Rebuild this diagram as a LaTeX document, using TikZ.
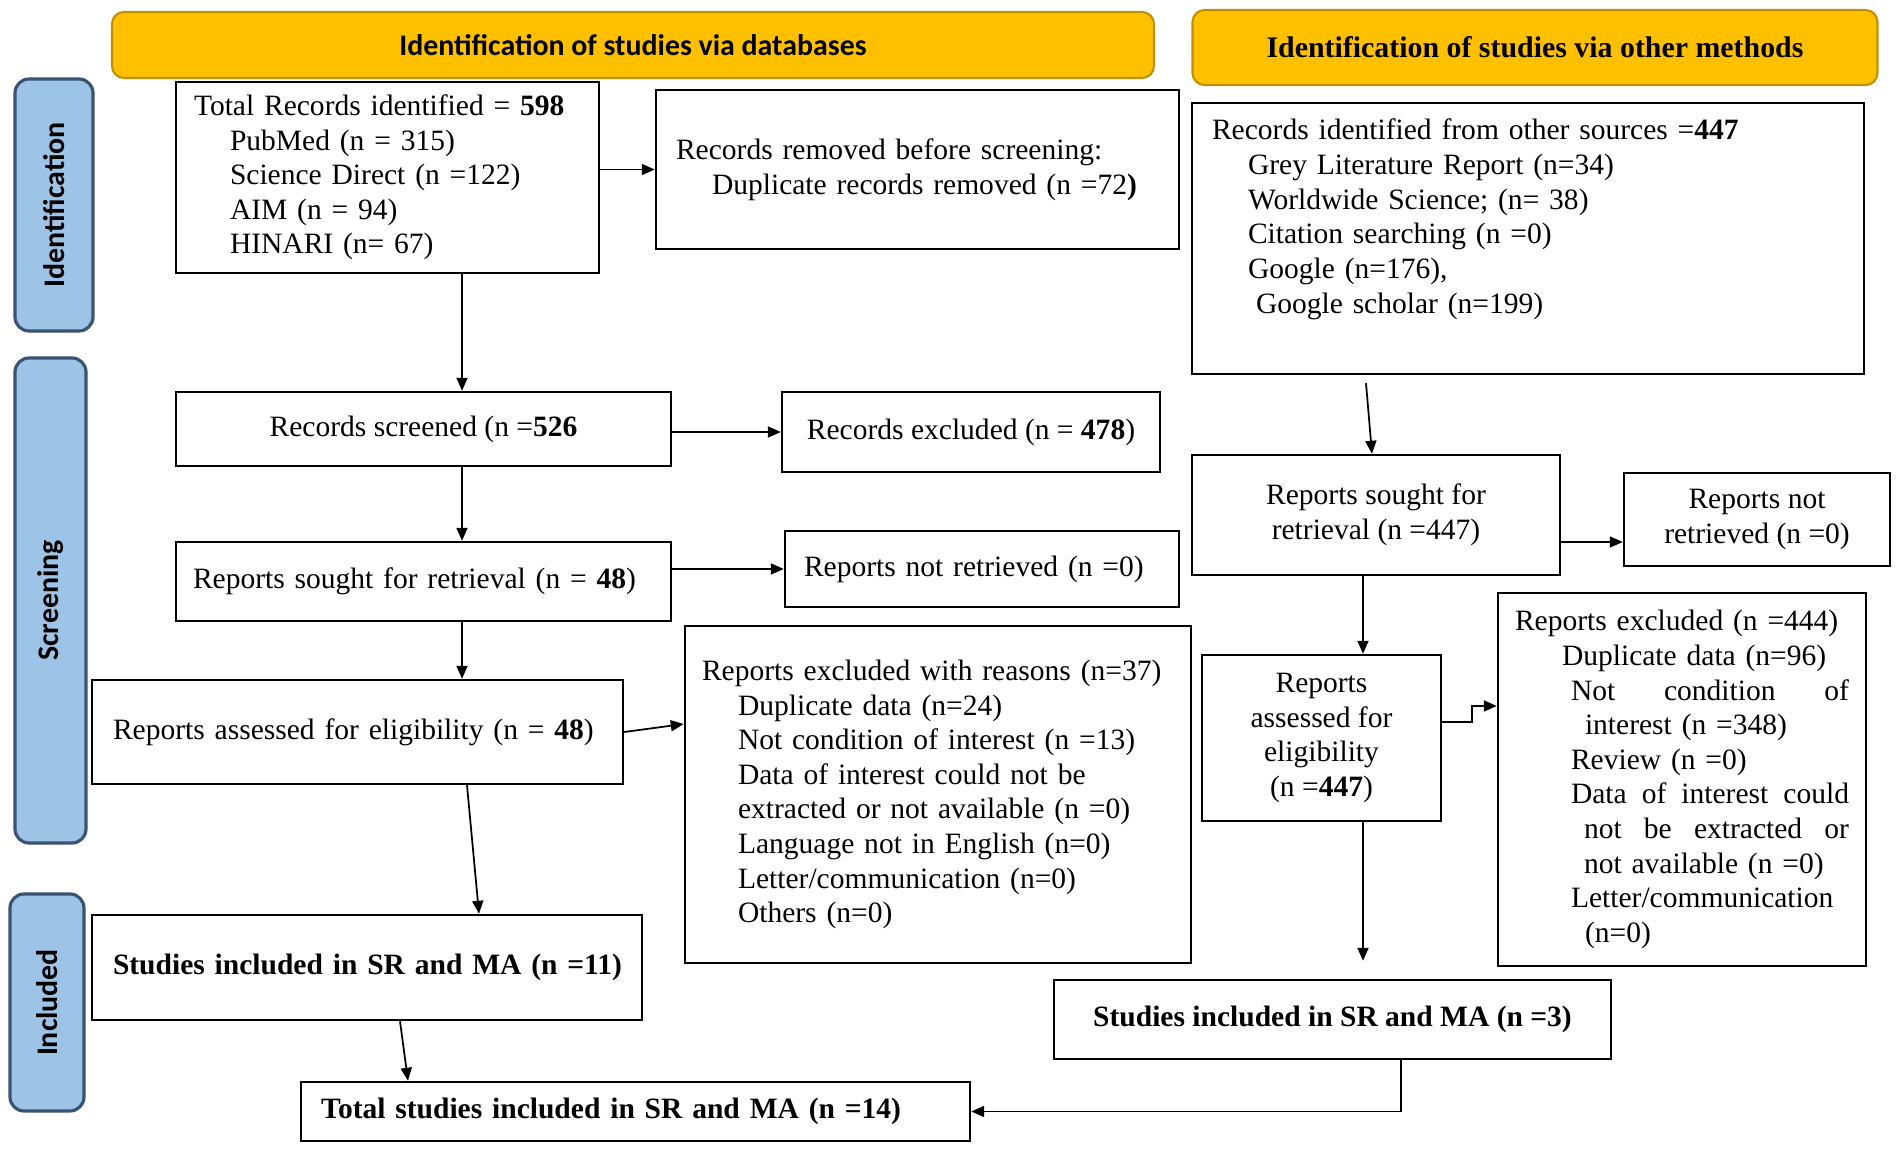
\documentclass[tikz,border=0pt]{standalone}
\usepackage{fontspec}
\setmainfont{Liberation Serif}
\newfontfamily\carlito{Carlito}
\usetikzlibrary{arrows.meta}
\definecolor{bannerfill}{HTML}{FFC000}
\definecolor{banneredge}{HTML}{BF9000}
\definecolor{phasefill}{HTML}{9DC3E6}
\definecolor{phaseedge}{HTML}{3A5372}
\newcommand{\bodyfont}{\fontsize{8.4}{9.85}\selectfont}
\newcommand{\ind}{\hspace*{0.36cm}}
\tikzset{
  box/.style={draw, line width=0.7pt, inner xsep=0.18cm, inner ysep=0.05cm, font=\bodyfont},
  leftbox/.style={box, align=left},
  midbox/.style={box, align=center},
  banner/.style={draw=banneredge, fill=bannerfill, rounded corners=0.12cm, line width=0.6pt},
  phase/.style={draw=phaseedge, fill=phasefill, rounded corners=0.14cm, line width=0.9pt, rotate=90,
    font=\carlito\fontsize{8.5}{10}\selectfont\bfseries},
  arr/.style={-{Triangle[length=1.3mm,width=1.1mm]}, line width=0.5pt},
}

\begin{document}
\begin{tikzpicture}
    \useasboundingbox (0,0) rectangle (19.02,-11.52);

    \node[banner, minimum width=10.42cm, minimum height=0.66cm, font=\carlito\fontsize{8.5}{10}\selectfont\bfseries]
        (dbhead) at (6.33,-0.45) {Identification of studies via databases};
    \node[banner, minimum width=6.85cm, minimum height=0.75cm, font=\fontsize{8.5}{10}\selectfont\bfseries]
        (otherhead) at (15.35,-0.475) {Identification of studies via other methods};

    \node[phase, minimum width=2.52cm, minimum height=0.78cm] (identphase) at (0.54,-2.05) {Identification};
    \node[phase, minimum width=4.85cm, minimum height=0.71cm] (screenphase) at (0.505,-6.005) {Screening};
    \node[phase, minimum width=2.17cm, minimum height=0.74cm] (incphase) at (0.47,-10.025) {Included};

    \node[leftbox, text width=3.87cm, minimum height=1.91cm] (total) at (3.875,-1.775)
        {Total Records identified = \textbf{598}\\\ind PubMed (n = 315)\\\ind Science Direct (n =122)\\\ind AIM (n = 94)\\\ind HINARI (n= 67)};
    \node[leftbox, inner xsep=0.2cm, text width=4.83cm, minimum height=1.59cm] (removed) at (9.175,-1.695)
        {Records removed before screening:\\\ind Duplicate records removed (n =72\textbf{)}};
    \node[leftbox, inner xsep=0.2cm, inner ysep=0.1cm, text width=6.32cm, text height=0.27cm, text depth=2.24cm]
        (other) at (15.28,-2.385)
        {Records identified from other sources =\textbf{447}\\\ind Grey Literature Report (n=34)\\\ind Worldwide Science; (n= 38)\\\ind Citation searching (n =0)\\\ind Google (n=176),\\\hspace*{0.44cm}Google scholar (n=199)};

    \node[midbox, minimum width=4.95cm, minimum height=0.74cm] (screened) at (4.235,-4.29)
        {Records screened (n =\textbf{526}};
    \node[midbox, minimum width=3.78cm, minimum height=0.80cm] (excluded) at (9.71,-4.32)
        {Records excluded (n = \textbf{478})};
    \node[leftbox, inner xsep=0.17cm, text width=4.61cm, minimum height=0.79cm] (sought) at (4.235,-5.815)
        {\mbox{Reports sought for retrieval (n = \textbf{48})}};
    \node[leftbox, inner xsep=0.19cm, text width=3.56cm, minimum height=0.76cm] (notretr) at (9.82,-5.69)
        {\mbox{Reports not retrieved (n =0)}};
    \node[leftbox, inner xsep=0.21cm, text width=4.89cm, minimum height=1.04cm] (assessed) at (3.575,-7.32)
        {\mbox{Reports assessed for eligibility (n = \textbf{48})}};
    \node[leftbox, inner xsep=0.17cm, text width=4.72cm, minimum height=3.37cm] (exclreasons) at (9.38,-7.945)
        {Reports excluded with reasons (n=37)\\\ind Duplicate data (n=24)\\\ind Not condition of interest (n =13)\\\ind Data of interest could not be\\\ind extracted or not available (n =0)\\\ind Language not in English (n=0)\\\ind Letter/communication (n=0)\\\ind Others (n=0)};
    \node[leftbox, inner xsep=0.21cm, text width=5.08cm, minimum height=1.05cm, font=\bodyfont\bfseries]
        (studies1) at (3.67,-9.675) {\mbox{Studies included in SR and MA (n =11)}};
    \node[leftbox, inner xsep=0.2cm, text width=6.29cm, minimum height=0.59cm, font=\bodyfont\bfseries]
        (totalinc) at (6.355,-11.115) {\mbox{Total studies included in SR and MA (n =14)}};

    \node[midbox, minimum width=3.68cm, minimum height=1.20cm] (sought2) at (13.76,-5.15)
        {Reports sought for\\retrieval (n =447)};
    \node[midbox, minimum width=2.66cm, minimum height=0.93cm] (notretr2) at (17.57,-5.195)
        {Reports not\\retrieved (n =0)};
    \node[midbox, minimum width=2.39cm, minimum height=1.66cm] (assessed2) at (13.215,-7.38)
        {Reports\\assessed for\\eligibility\\(n =\textbf{447})};
    \node[leftbox, inner xsep=0.17cm, text width=3.34cm, minimum height=3.73cm] (excl2) at (16.82,-7.795)
        {Reports excluded (n =444)\\
        \hspace*{0.47cm}Duplicate data (n=96)\\
        \hspace*{0.56cm}Not\hfill condition\hfill of\\
        \hspace*{0.70cm}interest (n =348)\\
        \hspace*{0.56cm}Review (n =0)\\
        \hspace*{0.56cm}Data\hfill of\hfill interest\hfill could\\
        \hspace*{0.69cm}not\hfill be\hfill extracted\hfill or\\
        \hspace*{0.69cm}not available (n =0)\\
        \hspace*{0.56cm}Letter/communication\\
        \hspace*{0.70cm}(n=0)};
    \node[midbox, minimum width=5.57cm, minimum height=0.79cm, font=\bodyfont\bfseries]
        (studies2) at (13.325,-10.195) {Studies included in SR and MA (n =3)};

    \coordinate (lcol) at (4.62,0);
    \coordinate (rcol) at (13.63,0);

    \draw[arr] (total.south -| lcol) -- (screened.north -| lcol);
    \draw[arr] (total.east |- removed.west) -- (removed.west);
    \draw[arr] (screened.east |- excluded.west) -- (excluded.west);
    \draw[arr] (screened.south -| lcol) -- (sought.north -| lcol);
    \draw[arr] (sought.east |- notretr.west) -- (notretr.west);
    \draw[arr] (sought.south -| lcol) -- (assessed.north -| lcol);
    \draw[arr] (assessed.east) -- ([yshift=7.05mm]exclreasons.west);
    \draw[arr] ([xshift=10.95mm]assessed.south) -- ([xshift=11.2mm]studies1.north);
    \draw[arr] ([xshift=3.3mm]studies1.south) -- ([xshift=-22.75mm]totalinc.north);

    \draw[arr] ([xshift=-16.2mm,yshift=-0.8mm]other.south) -- ([xshift=-0.4mm]sought2.north);
    \draw[arr] ([yshift=-2.7mm]sought2.east) -- ([yshift=-2.25mm]notretr2.west);
    \draw[arr] (sought2.south -| rcol) -- (assessed2.north -| rcol);
    \draw[arr] ([yshift=1.6mm]assessed2.east) -- ++(0.3,0) |- ([yshift=7.35mm]excl2.west);
    \draw[arr] (assessed2.south -| rcol) -- ([shift={(3.05mm,1.8mm)}]studies2.north);
    \draw[arr] ([xshift=6.85mm]studies2.south) |- (totalinc.east);
\end{tikzpicture}
\end{document}
